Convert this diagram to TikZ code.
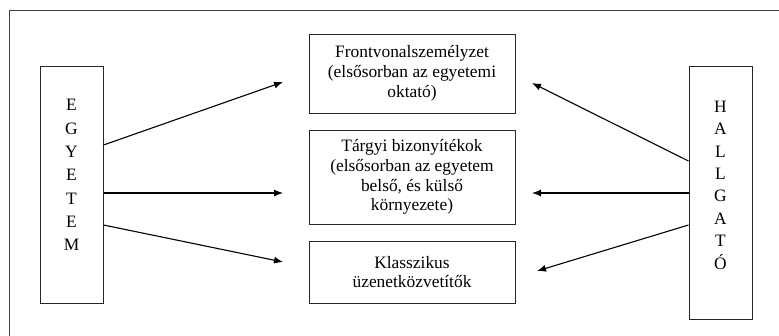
\documentclass[tikz,border=0pt]{standalone}
\usepackage{fontspec}
\setmainfont{Liberation Serif}
\usetikzlibrary{arrows.meta}
\tikzset{
box/.style={draw=black!85,line width=1pt,align=center,inner sep=0pt,font=\fontsize{17.4}{19.8}\selectfont},
sidebox/.style={draw=black!85,line width=1pt,inner sep=0pt,minimum width=63pt},
sidetext/.style={align=center,inner sep=0pt},
frameline/.style={draw=black!75,line width=1pt},
flow/.style={-{Latex[length=9pt,width=7pt]},line width=1.1pt,black}
}
\begin{document}
\begin{tikzpicture}[x=1pt,y=-1pt]
\useasboundingbox (0,0) rectangle (779,335);
\clip (0,0) rectangle (779,335);
\draw[frameline] (9,10.5) rectangle (800,360);
% the two actors
\node[sidebox,minimum height=237pt] (egyetem) at (71.5,184.5) {};
\node[sidetext,font=\fontsize{17.4}{23.3}\selectfont] (egyetemtxt) at (71.5,175)
 {E\\G\\Y\\E\\T\\E\\M};
\node[sidebox,minimum height=253pt] (hallgato) at (720.5,192.5) {};
\node[sidetext,font=\fontsize{17.4}{22.4}\selectfont] (hallgatotxt) at (720.5,185)
 {H\\A\\L\\L\\G\\A\\T\\Ó};
% the three channels
\node[box,minimum width=206pt,minimum height=79pt] (front) at (412,73.5)
 {Frontvonalszemélyzet\\(elsősorban az egyetemi\\oktató)};
\node[box,minimum width=206pt,minimum height=94pt] (targyi) at (412,177)
 {Tárgyi bizonyítékok\\(elsősorban az egyetem\\belső, és külső\\környezete)};
\node[box,minimum width=206pt,minimum height=62pt] (klassz) at (412,272)
 {Klasszikus\\üzenetközvetítők};
% arrow tips
\coordinate (e1) at (283,82);
\coordinate (e2) at (283,193);
\coordinate (e3) at (283,262);
\coordinate (h1) at (532,83);
\coordinate (h2) at (532,193);
\coordinate (h3) at (537,271);
\draw[flow] ([yshift=39.5pt]egyetem.east) -- (e1);
\draw[flow] ([yshift=-8.5pt]egyetem.east) -- (e2);
\draw[flow] ([yshift=-40.5pt]egyetem.east) -- (e3);
\draw[flow] ([yshift=31.5pt]hallgato.west) -- (h1);
\draw[flow] ([yshift=-0.5pt]hallgato.west) -- (h2);
\draw[flow] ([yshift=-32.5pt]hallgato.west) -- (h3);
\end{tikzpicture}
\end{document}
